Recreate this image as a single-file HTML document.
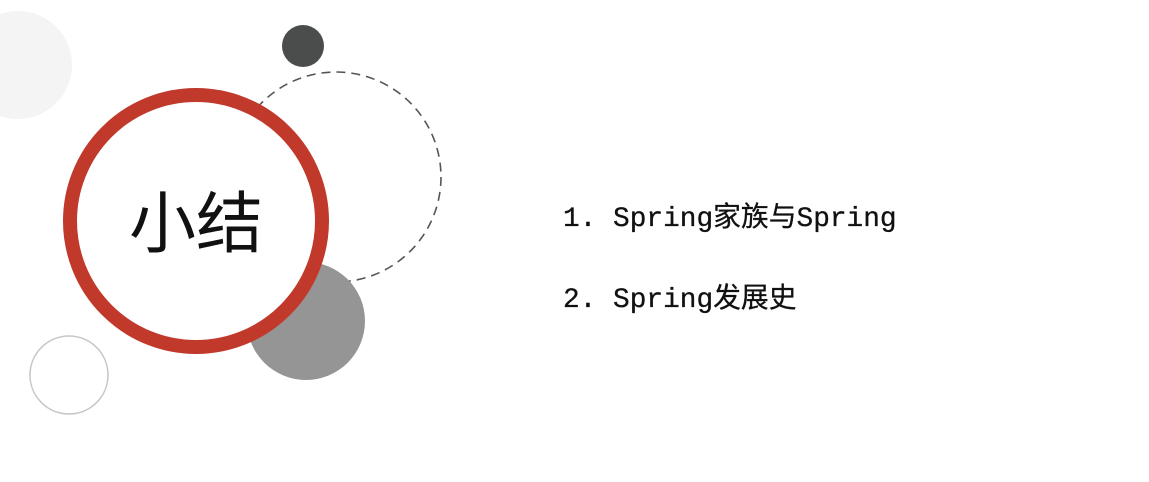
<!DOCTYPE html>
<html><head><meta charset="utf-8"><style>
html,body{margin:0;padding:0;background:#fff;}
body{width:1149px;height:482px;position:relative;overflow:hidden;}
.t{position:absolute;left:563px;font-family:"Liberation Mono","Noto Sans CJK SC",monospace;font-size:27.8px;color:#111;white-space:nowrap;line-height:1;-webkit-text-stroke:0.3px #111;}
</style></head><body>
<svg width="1149" height="482" style="position:absolute;left:0;top:0">
<circle cx="18" cy="65" r="54" fill="#f4f4f4"/>
<circle cx="303" cy="46" r="21" fill="#4b4d4d"/>
<circle cx="336" cy="177" r="105" fill="none" stroke="#555" stroke-width="1.6" stroke-dasharray="9,6"/>
<circle cx="306" cy="321" r="59" fill="#959595"/>
<circle cx="69" cy="375" r="39" fill="none" stroke="#c6c6c6" stroke-width="1.5"/>
<circle cx="196" cy="221" r="126" fill="#fff" stroke="#c0392b" stroke-width="14"/>
<text x="196" y="247" text-anchor="middle" font-family="Liberation Sans, Noto Sans CJK SC, sans-serif" font-size="67" fill="#111">小结</text>
</svg>
<div class="t" style="top:206px">1. Spring家族与Spring</div>
<div class="t" style="top:287px">2. Spring发展史</div>
</body></html>
